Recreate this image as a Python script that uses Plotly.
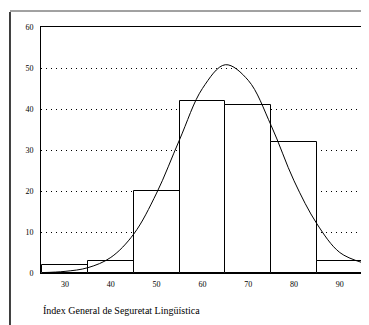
import plotly.graph_objects as go

# Histogram bins (centres) and counts
bin_centers = [30, 40, 50, 60, 70, 80, 90]
counts = [2, 3, 20, 42, 41, 32, 3]

# Fitted normal curve
curve_x = [25, 30, 35, 40, 45, 50, 55, 60, 65, 70, 75, 80, 85, 90, 95]
curve_y = [0.1, 0.4, 1.3, 3.8, 9.5, 19.5, 32.5, 45.0, 50.8, 47.0, 36.0, 22.5, 12.0, 5.0, 2.5]

x_ticks = [30, 40, 50, 60, 70, 80, 90]
y_ticks = [0, 10, 20, 30, 40, 50, 60]
x_title = "Índex General de Seguretat Lingüística"

fig = go.Figure()
fig.add_trace(go.Bar(
    x=bin_centers, y=counts, width=10,
    marker=dict(color="white", line=dict(color="black", width=1)),
    showlegend=False, hoverinfo="skip",
))
fig.add_trace(go.Scatter(
    x=curve_x, y=curve_y, mode="lines",
    line=dict(color="black", width=1, shape="spline"),
    showlegend=False, hoverinfo="skip",
))

font = dict(family="Liberation Serif, Times New Roman, serif", color="black")

# page body has an 8px margin, so the figure is 8px smaller and margins shifted
fig.update_layout(
    width=361, height=317,
    margin=dict(l=33, r=7, t=19, b=52),
    paper_bgcolor="white", plot_bgcolor="white",
    bargap=0,
    font=dict(**font, size=8),
    xaxis=dict(
        range=[24.75, 94.85], tickvals=x_ticks, ticks="", showgrid=False,
        showline=True, linecolor="black", linewidth=1, mirror=True,
        zeroline=False, tickfont=dict(**font, size=8), ticklabelstandoff=3,
    ),
    yaxis=dict(
        range=[0, 60], tickvals=y_ticks, ticks="", showgrid=True,
        gridcolor="black", gridwidth=1, griddash="1px,4px",
        showline=True, linecolor="black", linewidth=1, mirror=True,
        zeroline=False, tickfont=dict(**font, size=8), ticklabelstandoff=5,
    ),
    annotations=[dict(
        text=x_title, xref="paper", yref="paper", x=0, y=-0.154,
        xanchor="left", yanchor="middle", showarrow=False,
        font=dict(**font, size=10),
    )],
    shapes=[
        dict(type="line", xref="paper", yref="paper", x0=-0.0966, x1=-0.0966,
             y0=1.061, y1=-0.211, line=dict(color="black", width=1.5)),
        dict(type="line", xref="paper", yref="paper", x0=-0.0966, x1=1.03,
             y0=1.065, y1=1.065, line=dict(color="#444", width=1)),
    ],
)

fig.write_html("out.html")
